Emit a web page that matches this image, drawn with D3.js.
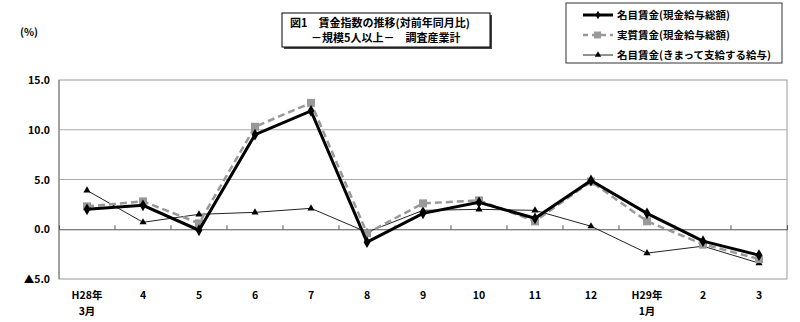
<!DOCTYPE html>
<meta charset="utf-8">
<html>
<head>
    <title>賃金指数の推移</title>
    <script type="text/javascript" src="https://cdn.jsdelivr.net/npm/d3@7/dist/d3.min.js"></script>
    <style type="text/css">
        html, body {
            padding: 0px;
            margin: 0px;
            background: #fff;
        }
        text {
            font-family: "Noto Sans CJK JP", sans-serif;
            font-weight: bold;
            fill: #000;
        }
    </style>
</head>
<body>
    <svg id="svg"></svg>
    <script type="text/javascript">
        // カテゴリ（上段・下段）
        var months = ["H28/3", "4", "5", "6", "7", "8", "9", "10", "11", "12", "H29/1", "2", "3"]
        var labelTop = ["H28年", "4", "5", "6", "7", "8", "9", "10", "11", "12", "H29年", "2", "3"]
        var labelBottom = ["3月", "", "", "", "", "", "", "", "", "", "1月", "", ""]
        // 系列データ（%）
        var nominal = [2.0, 2.4, -0.1, 9.5, 11.9, -1.3, 1.6, 2.7, 1.1, 4.9, 1.6, -1.2, -2.6]
        var real = [2.3, 2.8, 0.6, 10.3, 12.7, -0.4, 2.6, 2.9, 0.8, 4.8, 0.8, -1.5, -3.0]
        var scheduled = [3.9, 0.7, 1.5, 1.7, 2.1, -0.3, 1.9, 2.0, 1.9, 0.3, -2.4, -1.7, -3.4]
        var yTicks = [-5, 0, 5, 10, 15]
        var titleLines = ["図1　賃金指数の推移(対前年同月比)", "－規模5人以上－　調査産業計"]
        var legendNames = ["名目賃金(現金給与総額)", "実質賃金(現金給与総額)", "名目賃金(きまって支給する給与)"]

        var width = 800
        var height = 322
        var svg = d3.select('svg').attr('width', width).attr('height', height)

        var plotLeft = 59, plotRight = 787, plotTop = 80, plotBottom = 279
        var x = d3.scaleBand().domain(months).range([plotLeft, plotRight])
        var y = d3.scaleLinear().domain([-5, 15]).range([plotBottom, plotTop])
        var cx = function (d, i) { return x(months[i]) + x.bandwidth() / 2 }

        // 枠とグリッド
        svg.append("rect")
          .attr("x", plotLeft).attr("y", plotTop)
          .attr("width", plotRight - plotLeft).attr("height", plotBottom - plotTop)
          .attr("fill", "none").attr("stroke", "#999").attr("stroke-width", 1)
        svg.append("g").selectAll("line")
          .data([5, 10])
          .enter().append("line")
          .attr("x1", plotLeft).attr("x2", plotRight)
          .attr("y1", function (d) { return y(d) }).attr("y2", function (d) { return y(d) })
          .attr("stroke", "#aaa").attr("stroke-width", 1)
        svg.append("line")
          .attr("x1", plotLeft).attr("x2", plotLeft).attr("y1", plotTop).attr("y2", plotBottom)
          .attr("stroke", "#777")

        // 0の軸（目盛りつき）
        var xAxis = d3.axisBottom(x).tickSize(-4).tickFormat("")
        var gx = svg.append("g").attr("transform", "translate(0," + y(0) + ")").call(xAxis)
        gx.select(".domain").attr("stroke", "#555")
        gx.selectAll(".tick line").attr("stroke", "#555")
          .attr("transform", "translate(" + (x.bandwidth() / 2) + ",0)")
        gx.selectAll(".tick").filter(function (d, i) { return i === months.length - 1 }).remove()

        // Y軸ラベル
        svg.append("g").selectAll("text")
          .data(yTicks)
          .enter().append("text")
          .attr("x", 50).attr("y", function (d) { return y(d) + 4 })
          .attr("text-anchor", "end").attr("font-size", 10.5)
          .text(function (d) { return (d < 0 ? "▲" + Math.abs(d).toFixed(1) : d.toFixed(1)) })
        svg.append("text").attr("x", 20).attr("y", 36).attr("font-size", 10.5).text("(%)")

        // X軸ラベル
        svg.append("g").selectAll("text")
          .data(labelTop)
          .enter().append("text")
          .attr("x", cx).attr("y", 299)
          .attr("text-anchor", "middle").attr("font-size", 10.5)
          .text(function (d) { return d })
        svg.append("g").selectAll("text")
          .data(labelBottom)
          .enter().append("text")
          .attr("x", cx).attr("y", 315)
          .attr("text-anchor", "middle").attr("font-size", 10.5)
          .text(function (d) { return d })

        var line = d3.line().x(cx).y(function (d) { return y(d) })

        // きまって支給する給与（細線・三角）
        svg.append("path").datum(scheduled)
          .attr("d", line).attr("fill", "none").attr("stroke", "#222").attr("stroke-width", 1)
        svg.append("g").selectAll("path")
          .data(scheduled)
          .enter().append("path")
          .attr("d", d3.symbol().type(d3.symbolTriangle).size(22))
          .attr("transform", function (d, i) { return "translate(" + cx(d, i) + "," + y(d) + ")" })
          .attr("fill", "#000")

        // 実質賃金（灰色破線・四角）
        svg.append("path").datum(real)
          .attr("d", line).attr("fill", "none").attr("stroke", "#999")
          .attr("stroke-width", 2.5).attr("stroke-dasharray", "7,4")
        svg.append("g").selectAll("rect")
          .data(real)
          .enter().append("rect")
          .attr("x", function (d, i) { return cx(d, i) - 4 }).attr("y", function (d) { return y(d) - 4 })
          .attr("width", 8).attr("height", 8).attr("fill", "#999")

        // 名目賃金（太線・ひし形）
        svg.append("path").datum(nominal)
          .attr("d", line).attr("fill", "none").attr("stroke", "#000").attr("stroke-width", 3)
        svg.append("g").selectAll("path")
          .data(nominal)
          .enter().append("path")
          .attr("d", d3.symbol().type(d3.symbolDiamond).size(40))
          .attr("transform", function (d, i) { return "translate(" + cx(d, i) + "," + y(d) + ")" })
          .attr("fill", "#000")

        // タイトル
        svg.append("rect").attr("x", 284).attr("y", 15).attr("width", 208).attr("height", 34).attr("fill", "#444")
        svg.append("rect").attr("x", 282).attr("y", 13).attr("width", 208).attr("height", 34)
          .attr("fill", "#fff").attr("stroke", "#000").attr("stroke-width", 1)
        svg.append("g").selectAll("text")
          .data(titleLines)
          .enter().append("text")
          .attr("x", function (d, i) { return i === 0 ? 290 : 311 })
          .attr("y", function (d, i) { return 27 + i * 15 })
          .attr("font-size", 11)
          .text(function (d) { return d })

        // 凡例
        svg.append("rect").attr("x", 566).attr("y", 3).attr("width", 216).attr("height", 60)
          .attr("fill", "#fff").attr("stroke", "#333").attr("stroke-width", 1)
        var lg = svg.append("g").selectAll("g")
          .data(legendNames)
          .enter().append("g")
          .attr("transform", function (d, i) { return "translate(583," + (15 + i * 20) + ")" })
        lg.append("line").attr("x1", 0).attr("x2", 30)
          .attr("stroke", function (d, i) { return i === 1 ? "#999" : (i === 0 ? "#000" : "#222") })
          .attr("stroke-width", function (d, i) { return [3, 2.5, 1][i] })
          .attr("stroke-dasharray", function (d, i) { return i === 1 ? "5,4" : null })
        lg.filter(function (d, i) { return i === 0 }).append("path")
          .attr("d", d3.symbol().type(d3.symbolDiamond).size(20)).attr("transform", "translate(15,0)")
        lg.filter(function (d, i) { return i === 1 }).append("rect")
          .attr("x", 11).attr("y", -3.5).attr("width", 7).attr("height", 7).attr("fill", "#999")
        lg.filter(function (d, i) { return i === 2 }).append("path")
          .attr("d", d3.symbol().type(d3.symbolTriangle).size(18)).attr("transform", "translate(15,0)")
        lg.append("text").attr("x", 34).attr("y", 4).attr("font-size", 10.5)
          .text(function (d) { return d })
    </script>
</body>
</html>
